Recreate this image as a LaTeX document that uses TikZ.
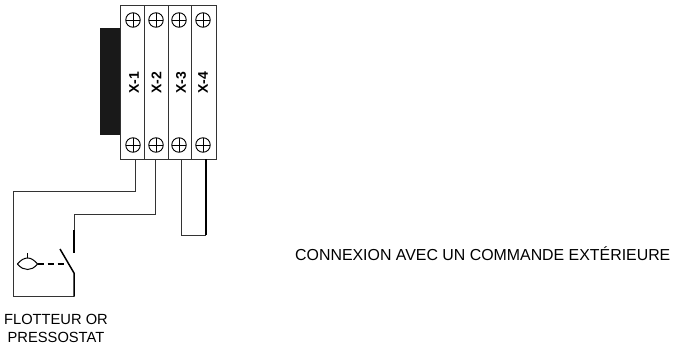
\documentclass[tikz,border=0pt]{standalone}
\usepackage{fontspec}
\setmainfont{Liberation Sans}
\tikzset{
  thinw/.style={line width=1pt,draw=black!80},
  thickw/.style={line width=1.5pt,draw=black},
  box/.style={line width=1pt,draw=black!80},
  termlabel/.style={rotate=90,font=\bfseries\fontsize{14}{16}\selectfont,inner sep=0pt},
  caption/.style={font=\fontsize{14.7}{18}\selectfont,inner sep=0pt,align=center},
  titletext/.style={font=\fontsize{15.9}{18}\selectfont,inner sep=0pt},
  screw/.style={circle,draw=black,line width=0.9pt,minimum size=14.5pt,inner sep=0pt,
    path picture={\draw[line width=0.8pt] (path picture bounding box.west)--(path picture bounding box.east)
      (path picture bounding box.north)--(path picture bounding box.south);}},
}
\begin{document}
\begin{tikzpicture}[x=1pt,y=-1pt]
\useasboundingbox (0,0) rectangle (673,348);
\fill[black!90] (100,28) rectangle (120.5,135);
\draw[box] (120.5,5) rectangle (216,159);
\draw[box] (144,5)--(144,159) (168.5,5)--(168.5,159) (191.7,5)--(191.7,159);
\foreach \n/\x in {1/133,2/156,3/179,4/203}{
  \node[screw] (st\n) at (\x,20) {};
  \node[screw] (sb\n) at (\x,145) {};
}
\node[termlabel] (l1) at (134,83) {X-1};
\node[termlabel] (l2) at (156.5,83) {X-2};
\node[termlabel] (l3) at (181,83) {X-3};
\node[termlabel] (l4) at (203,83) {X-4};
\coordinate (a1) at (135,159);
\coordinate (a2) at (155.5,159);
\coordinate (a3) at (181.5,159);
\coordinate (a4) at (206,159);
\coordinate (pivot) at (74,273);
\coordinate (contact) at (74,252.6);
\coordinate (blade) at (60,249);
\draw[thinw] (a1)--(135,191)--(13,191)--(13,296.7)--(74,296.7);
\draw[thickw] (74,296.7)--(pivot)--(blade);
\draw[thinw] (a2)--(155.5,214)--(74,214)--(74,230);
\draw[thickw] (74,230)--(contact);
\draw[thinw] (a3)--(181.5,235)--(206,235);
\draw[thickw] (206,235)--(a4);
\coordinate (fl) at (17.3,264);
\coordinate (fr) at (37.7,264);
\coordinate (ft) at (27.7,258);
\draw[line width=1pt] (fl) .. controls (21,260) and (24,258) .. (ft) .. controls (31,258) and (34,260) .. (fr) .. controls (34,268) and (31,269.5) .. (27.7,269.5) .. controls (24,269.5) and (21,268) .. (fl);
\draw[line width=1pt] (ft)--(27.7,252.7);
\draw[thickw,dash pattern=on 6.5pt off 3.5pt] (fr)--(68.5,264);
\node[caption] (cap) at (56,328) {FLOTTEUR OR\\PRESSOSTAT};
\node[titletext,anchor=west] (title) at (295,254) {CONNEXION AVEC UN COMMANDE EXTÉRIEURE};
\end{tikzpicture}
\end{document}
